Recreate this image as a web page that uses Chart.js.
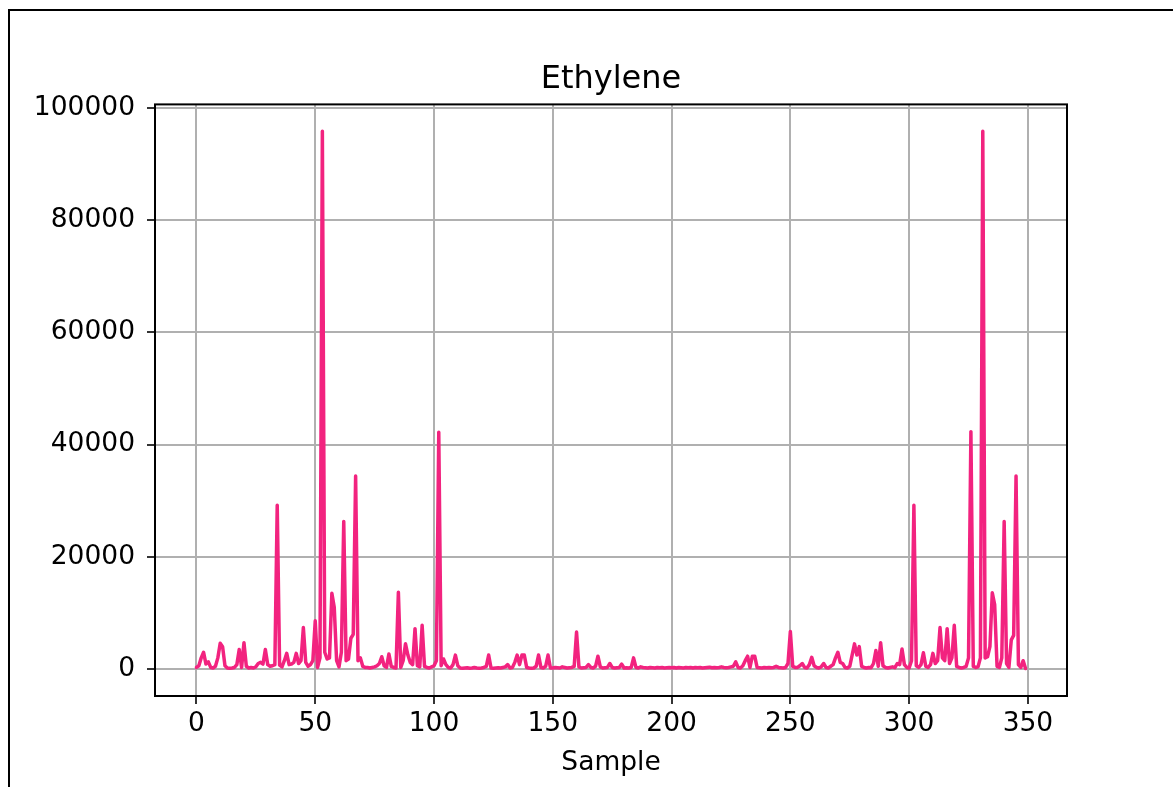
<!DOCTYPE html>
<html>
<head>
<meta charset="utf-8">
<script src="https://cdn.jsdelivr.net/npm/chart.js@4.4.0/dist/chart.umd.min.js"></script>
<style>
  html, body { margin: 0; padding: 0; background: #fff; overflow: hidden; }
  #wrap { position: relative; width: 1173px; height: 787px; }
  #frame { position: absolute; left: 8px; top: 9px; width: 1200px; height: 800px; border: 2px solid #000; pointer-events: none; }
</style>
</head>
<body>
<div id="wrap">
  <canvas id="ethyleneChart" width="1173" height="787"></canvas>
  <div id="frame"></div>
</div>
<script>
const chartTitle = "Ethylene";
const xAxisLabel = "Sample";
const xTicks = [0, 50, 100, 150, 200, 250, 300, 350];
const yTicks = [0, 20000, 40000, 60000, 80000, 100000];

// one value per sample
const ethyleneValues = [
  300, 600, 2000, 3000, 900, 1300, 300, 200, 500, 2000,
  4600, 4000, 600, 200, 150, 200, 300, 800, 3500, 300,
  4700, 500, 200, 300, 200, 400, 1000, 1200, 900, 3500,
  800, 500, 600, 800, 29200, 700, 400, 1500, 2800, 800,
  900, 1200, 2800, 1000, 1500, 7400, 1200, 500, 800, 1500,
  8600, 300, 2000, 95800, 3000, 1800, 2000, 13500, 11000, 1500,
  400, 3000, 26300, 1500, 1800, 5500, 6200, 34400, 1500, 2000,
  500, 300, 300, 200, 300, 400, 600, 1000, 2200, 600,
  300, 2700, 500, 300, 200, 13700, 300, 1500, 4500, 2500,
  1200, 800, 7200, 600, 400, 7800, 500, 300, 200, 400,
  600, 1500, 42200, 600, 1800, 800, 300, 200, 800, 2500,
  600, 200, 150, 200, 250, 150, 200, 300, 200, 150,
  200, 300, 500, 2500, 200, 150, 200, 250, 200, 300,
  400, 800, 200, 300, 1200, 2500, 800, 2500, 2500, 300,
  200, 150, 200, 500, 2500, 300, 200, 500, 2500, 200,
  200, 300, 250, 200, 400, 300, 200, 250, 300, 500,
  6600, 400, 200, 250, 300, 800, 300, 200, 500, 2300,
  400, 200, 250, 300, 1000, 300, 200, 250, 300, 900,
  200, 250, 200, 300, 2000, 300, 200, 400, 300, 250,
  200, 300, 250, 200, 300, 250, 300, 200, 250, 300,
  250, 300, 200, 300, 250, 200, 300, 250, 300, 200,
  300, 250, 300, 200, 250, 300, 350, 250, 300, 250,
  300, 400, 300, 250, 300, 400, 500, 1300, 300, 200,
  600, 1500, 2300, 300, 2300, 2300, 300, 250, 200, 300,
  250, 300, 250, 300, 500, 300, 250, 200, 300, 1000,
  6700, 500, 300, 300, 600, 1000, 300, 200, 800, 2100,
  600, 300, 200, 400, 1000, 300, 200, 500, 800, 2000,
  3000, 1200, 1000, 300, 200, 500, 2500, 4500, 2500, 4000,
  500, 300, 200, 300, 250, 1000, 3300, 500, 4700, 600,
  300, 200, 300, 400, 250, 1000, 800, 3600, 800, 300,
  200, 1500, 29200, 600, 300, 800, 2900, 500, 300, 800,
  2800, 1000, 1500, 7400, 2000, 1500, 7200, 1000, 2000, 7800,
  500, 300, 200, 300, 500, 2000, 42300, 500, 300, 400,
  2000, 95800, 2000, 2200, 4000, 13600, 11500, 500, 300, 2000,
  26300, 1000, 300, 5200, 6000, 34400, 800, 300, 1500, 100
];

const points = ethyleneValues.map((v, i) => ({ x: i, y: v }));

// matplotlib-like 5% margins
const xMin = -0.05 * (ethyleneValues.length - 1);
const xMax = (ethyleneValues.length - 1) * 1.05;
const yMaxData = Math.max(...ethyleneValues);
const yMin = -0.05 * yMaxData;
const yMax = yMaxData * 1.05;

const fontFamily = "'DejaVu Sans', sans-serif";

// black frame around the plot area, drawn on top of the line
const frameBox = {
  id: "frameBox",
  afterDatasetsDraw(chart) {
    const { ctx, chartArea } = chart;
    ctx.save();
    ctx.strokeStyle = "#000";
    ctx.lineWidth = 2;
    ctx.strokeRect(chartArea.left, chartArea.top, chartArea.right - chartArea.left, chartArea.bottom - chartArea.top);
    ctx.restore();
  }
};

new Chart(document.getElementById("ethyleneChart").getContext("2d"), {
  type: "line",
  data: {
    datasets: [{
      label: chartTitle,
      data: points,
      borderColor: "#f2237f",
      borderWidth: 3.5,
      borderJoinStyle: "round",
      borderCapStyle: "round",
      pointRadius: 0,
      tension: 0,
      fill: false
    }]
  },
  options: {
    responsive: false,
    animation: false,
    layout: { padding: { left: 0, right: 106, top: 0, bottom: 0 } },
    plugins: {
      legend: { display: false },
      tooltip: { enabled: false },
      title: {
        display: true,
        text: chartTitle,
        fullSize: false,
        color: "#000",
        font: { family: fontFamily, size: 32, weight: "normal" },
        padding: { top: 60, bottom: 6 }
      }
    },
    scales: {
      x: {
        type: "linear",
        min: xMin,
        max: xMax,
        afterBuildTicks: scale => { scale.ticks = xTicks.map(v => ({ value: v })); },
        afterFit: scale => { scale.height = 91; },
        grid: { color: "#b0b0b0", lineWidth: 2, tickColor: "#000", tickLength: 8, tickWidth: 1.6 },
        border: { display: false },
        ticks: { color: "#000", padding: 4, maxRotation: 0, font: { family: fontFamily, size: 26.5 } },
        title: {
          display: true,
          text: xAxisLabel,
          color: "#000",
          font: { family: fontFamily, size: 26.5 },
          padding: { top: 0, bottom: 8 }
        }
      },
      y: {
        type: "linear",
        min: yMin,
        max: yMax,
        afterBuildTicks: scale => { scale.ticks = yTicks.map(v => ({ value: v })); },
        afterFit: scale => { scale.width = 155; },
        grid: { color: "#b0b0b0", lineWidth: 2, tickColor: "#000", tickLength: 8, tickWidth: 1.6 },
        border: { display: false },
        ticks: { color: "#000", padding: 12, font: { family: fontFamily, size: 26.5 }, callback: v => String(v) }
      }
    }
  },
  plugins: [frameBox]
});
</script>
</body>
</html>
